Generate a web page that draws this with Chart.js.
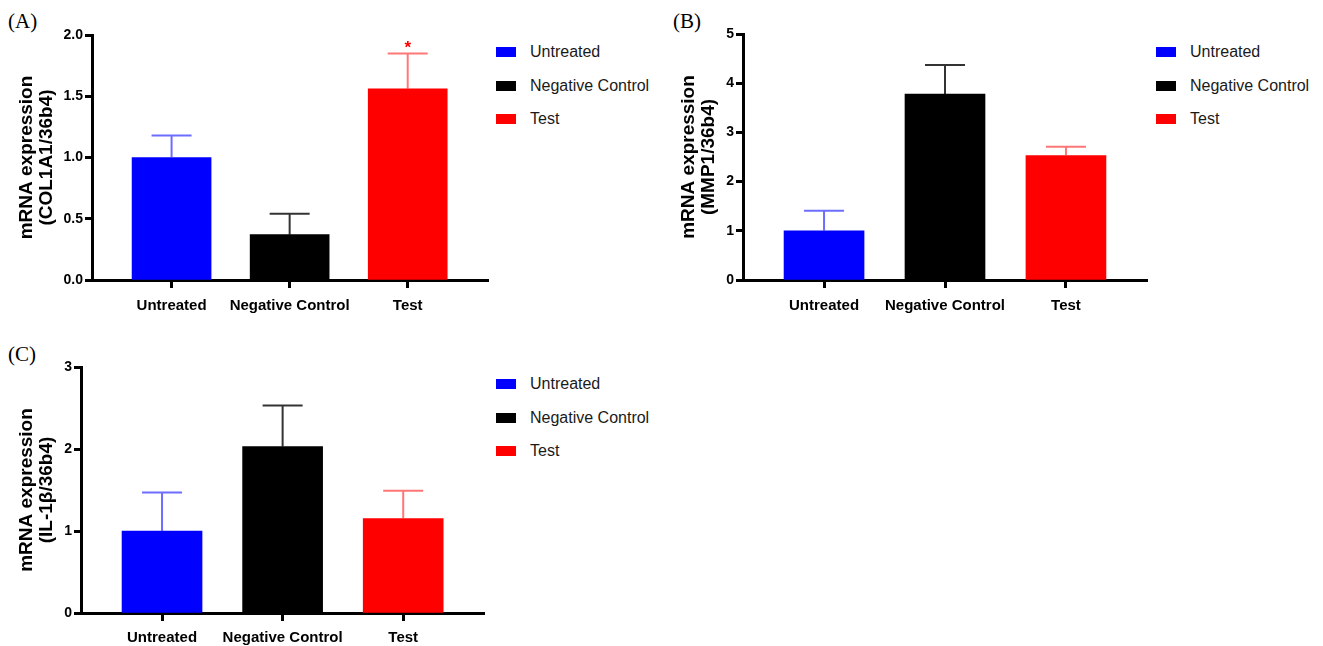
<!DOCTYPE html>
<html>
<head>
<meta charset="utf-8">
<script src="https://cdn.jsdelivr.net/npm/chart.js@4"></script>
<style>
  html, body { margin:0; padding:0; background:#fff; width:1323px; height:646px; overflow:hidden; }
  .box { position:absolute; }
  .plabel { position:absolute; font-family:"Liberation Serif","Times New Roman",serif; font-size:21px; color:#000; }
  .legend { position:absolute; font-family:"Liberation Sans",Arial,sans-serif; font-size:16px; color:#1a1a1a; }
  .legend .row { position:relative; height:33.5px; line-height:20px; }
  .legend .sw { position:absolute; left:0; top:5px; width:20px; height:10px; }
  .legend .tx { position:absolute; left:34px; top:0; white-space:nowrap; }
</style>
</head>
<body>
<div class="plabel" style="left:8px;top:9px;">(A)</div>
<div class="plabel" style="left:673px;top:9px;">(B)</div>
<div class="plabel" style="left:8px;top:342px;">(C)</div>

<div class="box" style="left:0;top:0;width:490px;height:320px;"><canvas id="cA"></canvas></div>
<div class="box" style="left:660px;top:0;width:490px;height:320px;"><canvas id="cB"></canvas></div>
<div class="box" style="left:0;top:340px;width:490px;height:306px;"><canvas id="cC"></canvas></div>

<div class="legend" id="legA" style="left:496px;top:42px;"></div>
<div class="legend" id="legB" style="left:1156px;top:42px;"></div>
<div class="legend" id="legC" style="left:496px;top:374px;"></div>

<script>
// ---- data ----
const categories = ["Untreated", "Negative Control", "Test"];
const barColors = ["#0000ff", "#000000", "#ff0000"];
const errColors = ["rgba(60,60,255,0.75)", "rgba(0,0,0,0.8)", "rgba(255,60,60,0.7)"];

const col1a1Mean = [1.00, 0.37, 1.56];
const col1a1Err  = [0.18, 0.17, 0.29];
const col1a1Sig  = ["", "", "*"];
const col1a1Ticks = [0, 0.5, 1.0, 1.5, 2.0];

const mmp1Mean = [1.00, 3.78, 2.53];
const mmp1Err  = [0.41, 0.59, 0.18];
const mmp1Sig  = ["", "", ""];
const mmp1Ticks = [0, 1, 2, 3, 4, 5];

const il1bMean = [1.00, 2.03, 1.15];
const il1bErr  = [0.47, 0.50, 0.34];
const il1bSig  = ["", "", ""];
const il1bTicks = [0, 1, 2, 3];

const FONT = '"Liberation Sans", Arial, sans-serif';

// ---- legends (HTML text) ----
function buildLegend(id) {
  const el = document.getElementById(id);
  categories.forEach((c, i) => {
    const r = document.createElement('div'); r.className = 'row';
    const s = document.createElement('div'); s.className = 'sw'; s.style.background = barColors[i];
    const t = document.createElement('div'); t.className = 'tx'; t.textContent = c;
    r.appendChild(s); r.appendChild(t); el.appendChild(r);
  });
}
buildLegend('legA'); buildLegend('legB'); buildLegend('legC');

// ---- error bar plugin ----
const errorBars = {
  id: 'errorBars',
  afterDatasetsDraw(chart, args, opts) {
    const ctx = chart.ctx;
    const meta = chart.getDatasetMeta(0);
    const ys = chart.scales.y;
    const means = opts.means, errs = opts.errs, sig = opts.sig || [];
    ctx.save();
    meta.data.forEach((bar, i) => {
      const x = bar.x;
      const yTop = ys.getPixelForValue(means[i] + errs[i]);
      const yBase = ys.getPixelForValue(means[i]);
      ctx.strokeStyle = errColors[i];
      ctx.lineWidth = 2;
      ctx.beginPath();
      ctx.moveTo(x, yBase); ctx.lineTo(x, yTop);
      ctx.moveTo(x - 20, yTop); ctx.lineTo(x + 20, yTop);
      ctx.stroke();
      if (sig[i]) {
        ctx.fillStyle = barColors[i];
        ctx.font = 'bold 17px ' + FONT;
        ctx.textAlign = 'center';
        ctx.textBaseline = 'middle';
        ctx.fillText(sig[i], x, yTop - 5);
      }
    });
    ctx.restore();
  }
};

function makeChart(id, cfg) {
  const data = categories.map((c, i) => ({ x: i, y: cfg.means[i] }));
  return new Chart(document.getElementById(id), {
    type: 'bar',
    data: {
      datasets: [{
        data: data,
        backgroundColor: barColors,
        borderWidth: 0,
        barThickness: cfg.barW
      }]
    },
    options: {
      responsive: true,
      maintainAspectRatio: false,
      animation: false,
      layout: { padding: { top: cfg.padTop, right: cfg.padRight, left: 0, bottom: 0 } },
      plugins: {
        legend: { display: false },
        tooltip: { enabled: false },
        errorBars: { means: cfg.means, errs: cfg.errs, sig: cfg.sig }
      },
      scales: {
        x: {
          type: 'linear',
          offset: false,
          min: cfg.xMin, max: cfg.xMax,
          afterBuildTicks: s => { s.ticks = categories.map((c, i) => ({ value: i })); },
          afterFit: s => { s.height = cfg.xH; },
          ticks: {
            callback: v => categories[v] !== undefined ? categories[v] : '',
            font: { family: FONT, size: 15, weight: 'bold' },
            color: '#000',
            padding: cfg.xPad,
            maxRotation: 0, autoSkip: false
          },
          grid: { offset: false, drawOnChartArea: false, drawTicks: true, tickLength: 8, tickWidth: 3, tickColor: '#000', color: '#000' },
          border: { display: true, width: 3, color: '#000' }
        },
        y: {
          min: cfg.ticks[0], max: cfg.ticks[cfg.ticks.length - 1],
          afterBuildTicks: s => { s.ticks = cfg.ticks.map(v => ({ value: v })); },
          afterFit: s => { s.width = cfg.yW; },
          ticks: {
            callback: v => cfg.dec ? Number(v).toFixed(cfg.dec) : String(v),
            font: { family: FONT, size: 14, weight: 'bold' },
            color: '#000',
            padding: 2
          },
          grid: { drawOnChartArea: false, drawTicks: true, tickLength: 7, tickWidth: 3, tickColor: '#000', color: '#000' },
          border: { display: true, width: 3, color: '#000' },
          title: {
            display: true,
            text: cfg.title,
            font: { family: FONT, size: 19, weight: 'bold', lineHeight: 1.03 },
            color: '#000',
            padding: { top: cfg.titlePad, bottom: 0 }
          }
        }
      }
    },
    plugins: [errorBars]
  });
}

makeChart('cA', {
  means: col1a1Mean, errs: col1a1Err, sig: col1a1Sig, ticks: col1a1Ticks, dec: 1,
  title: ['mRNA expression', '(COL1A1/36b4)'],
  barW: 79, xMin: -0.674, xMax: 2.68, yW: 92, xH: 40, xPad: 9, padTop: 35, padRight: 2, titlePad: 17
});
makeChart('cB', {
  means: mmp1Mean, errs: mmp1Err, sig: mmp1Sig, ticks: mmp1Ticks, dec: 0,
  title: ['mRNA expression', '(MMP1/36b4)'],
  barW: 80, xMin: -0.67, xMax: 2.67, yW: 83, xH: 40, xPad: 9, padTop: 34, padRight: 3, titlePad: 19
});
makeChart('cC', {
  means: il1bMean, errs: il1bErr, sig: il1bSig, ticks: il1bTicks, dec: 0,
  title: ['mRNA expression', '(IL-1β/36b4)'],
  barW: 80, xMin: -0.672, xMax: 2.67, yW: 81, xH: 33, xPad: 8, padTop: 27, padRight: 6, titlePad: 17
});
</script>
</body>
</html>
